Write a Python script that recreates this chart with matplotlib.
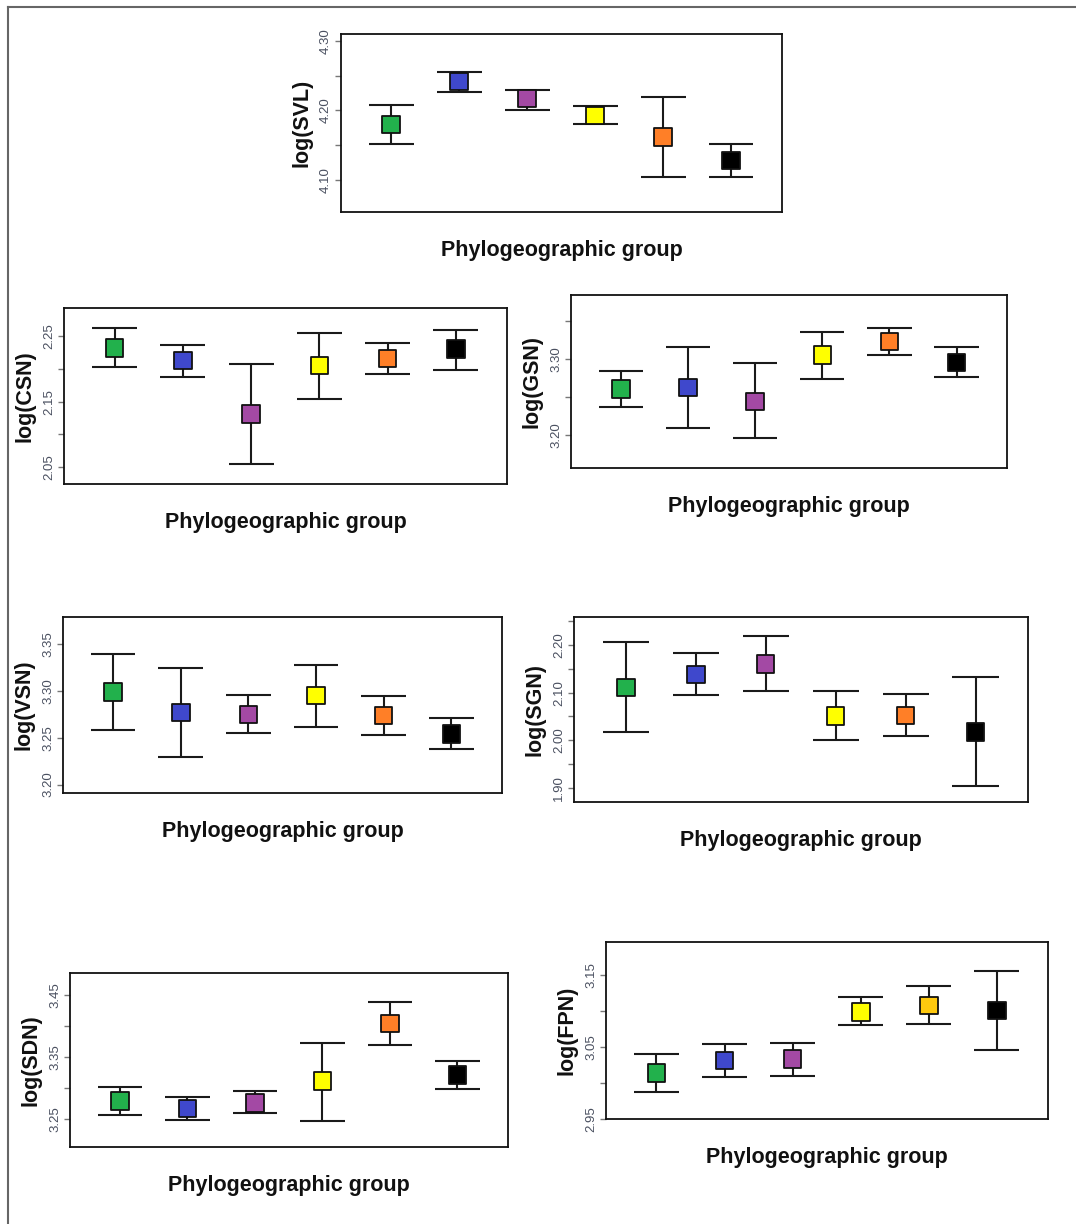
import matplotlib.pyplot as plt
from matplotlib.lines import Line2D

plt.rcParams['font.family'] = ['Liberation Sans', 'DejaVu Sans']

# six phylogeographic groups, same order in every panel
group_x = [1, 2, 3, 4, 5, 6]
group_colors = ['#22b14c', '#3f48cc', '#a349a4', '#ffff00', '#ff7f27', '#000000']
fpn_colors = ['#22b14c', '#3f48cc', '#a349a4', '#ffff00', '#ffc90e', '#000000']

# means and interval ends
svl_mean = [4.180, 4.242, 4.217, 4.193, 4.162, 4.128]
svl_low = [4.152, 4.227, 4.200, 4.181, 4.105, 4.105]
svl_high = [4.208, 4.256, 4.229, 4.206, 4.220, 4.152]
svl_ticks = ['4.10', '4.20', '4.30']
svl_minor = [4.15, 4.25]

csn_mean = [2.232, 2.213, 2.131, 2.205, 2.216, 2.230]
csn_low = [2.203, 2.188, 2.055, 2.154, 2.192, 2.198]
csn_high = [2.262, 2.236, 2.207, 2.255, 2.239, 2.259]
csn_ticks = ['2.05', '2.15', '2.25']
csn_minor = [2.10, 2.20]

gsn_mean = [3.260, 3.262, 3.244, 3.305, 3.323, 3.295]
gsn_low = [3.236, 3.209, 3.195, 3.274, 3.305, 3.276]
gsn_high = [3.284, 3.315, 3.295, 3.335, 3.341, 3.315]
gsn_ticks = ['3.20', '3.30']
gsn_minor = [3.25, 3.35]

vsn_mean = [3.299, 3.277, 3.275, 3.295, 3.274, 3.254]
vsn_low = [3.258, 3.230, 3.255, 3.261, 3.253, 3.238]
vsn_high = [3.340, 3.325, 3.296, 3.328, 3.295, 3.271]
vsn_ticks = ['3.20', '3.25', '3.30', '3.35']
vsn_minor = []

sgn_mean = [2.111, 2.138, 2.160, 2.051, 2.052, 2.017]
sgn_low = [2.018, 2.096, 2.103, 2.000, 2.008, 1.903]
sgn_high = [2.206, 2.184, 2.220, 2.103, 2.098, 2.132]
sgn_ticks = ['1.90', '2.00', '2.10', '2.20']
sgn_minor = [1.95, 2.05, 2.15, 2.25]

sdn_mean = [3.279, 3.267, 3.276, 3.311, 3.404, 3.321]
sdn_low = [3.257, 3.249, 3.259, 3.247, 3.369, 3.299]
sdn_high = [3.302, 3.285, 3.295, 3.372, 3.439, 3.344]
sdn_ticks = ['3.25', '3.35', '3.45']
sdn_minor = [3.30, 3.40]

fpn_mean = [3.014, 3.031, 3.033, 3.099, 3.108, 3.101]
fpn_low = [2.988, 3.008, 3.010, 3.081, 3.082, 3.046]
fpn_high = [3.041, 3.054, 3.056, 3.119, 3.135, 3.155]
fpn_ticks = ['2.95', '3.05', '3.15']
fpn_minor = [3.00, 3.10]


def draw_panel(fig, rect, name, mean, low, high, ticks, minor, ylim, colors):
    ax = fig.add_axes(rect)
    half = 0.33
    ax.vlines(group_x, low, high, color='#1a1a1a', lw=1.5, zorder=2)
    ax.hlines(low, [x - half for x in group_x], [x + half for x in group_x],
              color='#1a1a1a', lw=1.5, zorder=2)
    ax.hlines(high, [x - half for x in group_x], [x + half for x in group_x],
              color='#1a1a1a', lw=1.5, zorder=2)
    ax.scatter(group_x, mean, marker='s', s=160, c=colors,
               edgecolors='#111111', linewidths=1.3, zorder=3)

    ax.set_xlim(0.26, 6.75)
    ax.set_ylim(*ylim)
    ax.set_xticks([])
    ax.set_yticks([float(t) for t in ticks])
    ax.set_yticklabels(ticks, rotation=90, va='center', color='#4a5060', fontsize=9.5)
    ax.set_yticks(minor, minor=True)
    ax.tick_params(which='both', axis='y', direction='out', length=4, width=1,
                   color='#777777', pad=2.5)
    for sp in ax.spines.values():
        sp.set_linewidth(1.3)
        sp.set_color('#111111')

    ax.annotate('log(' + name + ')', xy=(0, 0.5), xycoords='axes fraction',
                xytext=(-28, 0), textcoords='offset points', rotation=90,
                ha='center', va='center', fontsize=15.5, fontweight='bold', color='#111111')
    ax.annotate('Phylogeographic group', xy=(0.5, 0), xycoords='axes fraction',
                xytext=(0, -28), textcoords='offset points',
                ha='center', va='center', fontsize=15.5, fontweight='bold', color='#111111')
    return ax


fig = plt.figure(figsize=(10.76, 12.24), dpi=100)

draw_panel(fig, [0.3169, 0.8268, 0.4099, 0.1454], 'SVL', svl_mean, svl_low, svl_high,
           svl_ticks, svl_minor, (4.054, 4.31), group_colors)
draw_panel(fig, [0.0595, 0.6046, 0.4117, 0.1438], 'CSN', csn_mean, csn_low, csn_high,
           csn_ticks, csn_minor, (2.0245, 2.293), group_colors)
draw_panel(fig, [0.5307, 0.6176, 0.4052, 0.1413], 'GSN', gsn_mean, gsn_low, gsn_high,
           gsn_ticks, gsn_minor, (3.156, 3.384), group_colors)
draw_panel(fig, [0.0586, 0.3521, 0.4080, 0.1438], 'VSN', vsn_mean, vsn_low, vsn_high,
           vsn_ticks, vsn_minor, (3.191, 3.379), group_colors)
draw_panel(fig, [0.5335, 0.3448, 0.4219, 0.1511], 'SGN', sgn_mean, sgn_low, sgn_high,
           sgn_ticks, sgn_minor, (1.870, 2.259), group_colors)
draw_panel(fig, [0.0651, 0.0629, 0.4071, 0.1422], 'SDN', sdn_mean, sdn_low, sdn_high,
           sdn_ticks, sdn_minor, (3.205, 3.485), group_colors)
draw_panel(fig, [0.5632, 0.0858, 0.4108, 0.1446], 'FPN', fpn_mean, fpn_low, fpn_high,
           fpn_ticks, fpn_minor, (2.95, 3.196), fpn_colors)

# frame lines along the top and left of the page
fig.add_artist(Line2D([8 / 1076, 8 / 1076], [0, 1 - 7 / 1224], color='#666666', lw=1.5))
fig.add_artist(Line2D([8 / 1076, 1], [1 - 7 / 1224, 1 - 7 / 1224], color='#666666', lw=1.5))

fig.savefig('out.png', dpi=100)
